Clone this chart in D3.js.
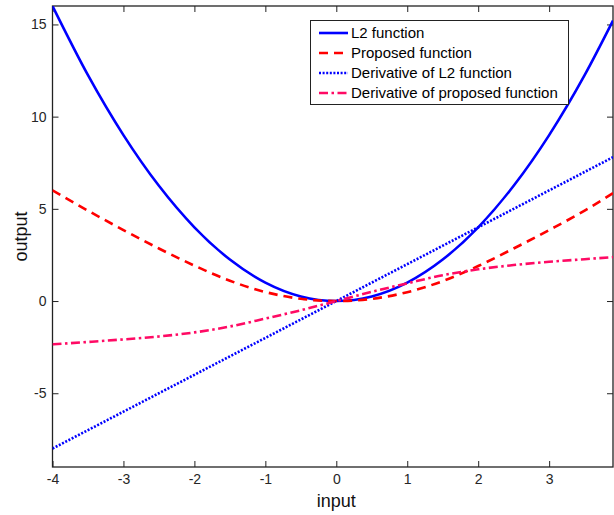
<!DOCTYPE html>
<html>
<head>
<meta charset="utf-8">
<script src="https://cdn.jsdelivr.net/npm/d3@7"></script>
<style>
body { margin: 0; background: #fff; }
svg text { font-family: "Liberation Sans", Arial, sans-serif; }
</style>
</head>
<body>
<div id="chart"></div>
<script>
// sample inputs (x)
var inputs = [-4, -3.5, -3, -2.5, -2, -1.5, -1, -0.5, 0, 0.5, 1, 1.5, 2, 2.5, 3, 3.5, 3.9]
var l2 = [16, 12.25, 9, 6.25, 4, 2.25, 1, 0.25, 0, 0.25, 1, 2.25, 4, 6.25, 9, 12.25, 15.21]
var proposed = [6.0, 4.9, 3.85, 2.85, 1.92, 1.1, 0.49, 0.12, 0, 0.12, 0.48, 1.08, 1.9, 2.85, 3.85, 4.9, 5.85]
var dL2 = [-8, -7, -6, -5, -4, -3, -2, -1, 0, 1, 2, 3, 4, 5, 6, 7, 7.8]
var dProposed = [-2.35, -2.22, -2.08, -1.92, -1.7, -1.38, -0.95, -0.5, 0, 0.5, 0.96, 1.4, 1.72, 1.95, 2.13, 2.27, 2.38]

var seriesNames = ['L2 function', 'Proposed function', 'Derivative of L2 function', 'Derivative of proposed function']
var seriesColors = ['#0000ff', '#ff0000', '#0000ff', '#ff0a64']
var seriesDash = [null, '9,6', '2,1.6', '9,3.5,2.5,3.5']
var seriesData = [l2, proposed, dL2, dProposed]

var xTicks = [-4, -3, -2, -1, 0, 1, 2, 3]
var yTicks = [-5, 0, 5, 10, 15]

var svg = d3.select('#chart').append('svg')
.attr('width', 614)
.attr('height', 515)

var marginL = 52.5
var marginT = 6
var plotR = 613
var plotB = 467

var x = d3.scaleLinear().domain([-4, 3.9]).range([marginL, plotR])
var y = d3.scaleLinear().domain([-9, 16]).range([plotB, marginT])
var fmt = function(d){ return String(d) }

svg.append('clipPath').attr('id', 'clip')
.append('rect')
.attr('x', marginL).attr('y', marginT)
.attr('width', plotR - marginL).attr('height', plotB - marginT)

// axes, ticks pointing inward on all four sides
var xAxis = svg.append('g')
.attr('transform', 'translate(0,' + plotB + ')')
.call(d3.axisBottom(x).tickValues(xTicks).tickSizeInner(-6).tickSizeOuter(0).tickPadding(7).tickFormat(fmt))
var xTop = svg.append('g')
.attr('transform', 'translate(0,' + marginT + ')')
.call(d3.axisTop(x).tickValues(xTicks).tickSizeInner(-6).tickSizeOuter(0).tickFormat(''))
var yAxis = svg.append('g')
.attr('transform', 'translate(' + marginL + ',0)')
.call(d3.axisLeft(y).tickValues(yTicks).tickSizeInner(-6).tickSizeOuter(0).tickPadding(6).tickFormat(fmt))
var yRight = svg.append('g')
.attr('transform', 'translate(' + plotR + ',0)')
.call(d3.axisRight(y).tickValues(yTicks).tickSizeInner(-6).tickSizeOuter(0).tickFormat(''))

svg.selectAll('.tick line').attr('stroke', '#222')
svg.selectAll('.domain').remove()
svg.selectAll('.tick text').attr('fill', '#262626').style('font-size', '14px')

// box
svg.append('rect')
.attr('x', marginL).attr('y', marginT)
.attr('width', plotR - marginL).attr('height', plotB - marginT)
.attr('fill', 'none').attr('stroke', '#222').attr('stroke-width', 1.3)

// axis labels
svg.append('text')
.attr('x', x(0)).attr('y', 507)
.attr('text-anchor', 'middle')
.style('font-size', '18px')
.attr('fill', '#111')
.text('input')
svg.append('text')
.attr('transform', 'translate(27,' + (marginT + plotB) / 2 + ') rotate(-90)')
.attr('text-anchor', 'middle')
.style('font-size', '18px')
.attr('fill', '#111')
.text('output')

var line = d3.line()
.x(function(d, i){ return x(inputs[i]) })
.y(function(d){ return y(d) })
.curve(d3.curveMonotoneX)

var lines = svg.append('g').attr('clip-path', 'url(#clip)')
seriesData.forEach(function(s, k){
    lines.append('path')
    .attr('d', line(s))
    .attr('fill', 'none')
    .attr('stroke', seriesColors[k])
    .attr('stroke-width', k == 0 ? 2.6 : 2.6)
    .attr('stroke-dasharray', seriesDash[k])
})

// legend
var leg = svg.append('g')
leg.append('rect')
.attr('x', 310.5).attr('y', 20.5)
.attr('width', 258).attr('height', 84)
.attr('fill', '#fff').attr('stroke', '#222').attr('stroke-width', 1)
seriesNames.forEach(function(name, k){
    var ly = 33 + k * 20
    leg.append('line')
    .attr('x1', 319).attr('x2', 348)
    .attr('y1', ly).attr('y2', ly)
    .attr('stroke', seriesColors[k])
    .attr('stroke-width', 2.6)
    .attr('stroke-dasharray', seriesDash[k])
    leg.append('text')
    .attr('x', 351).attr('y', ly + 5)
    .style('font-size', '15px')
    .attr('fill', '#000')
    .text(name)
})
</script>
</body>
</html>
